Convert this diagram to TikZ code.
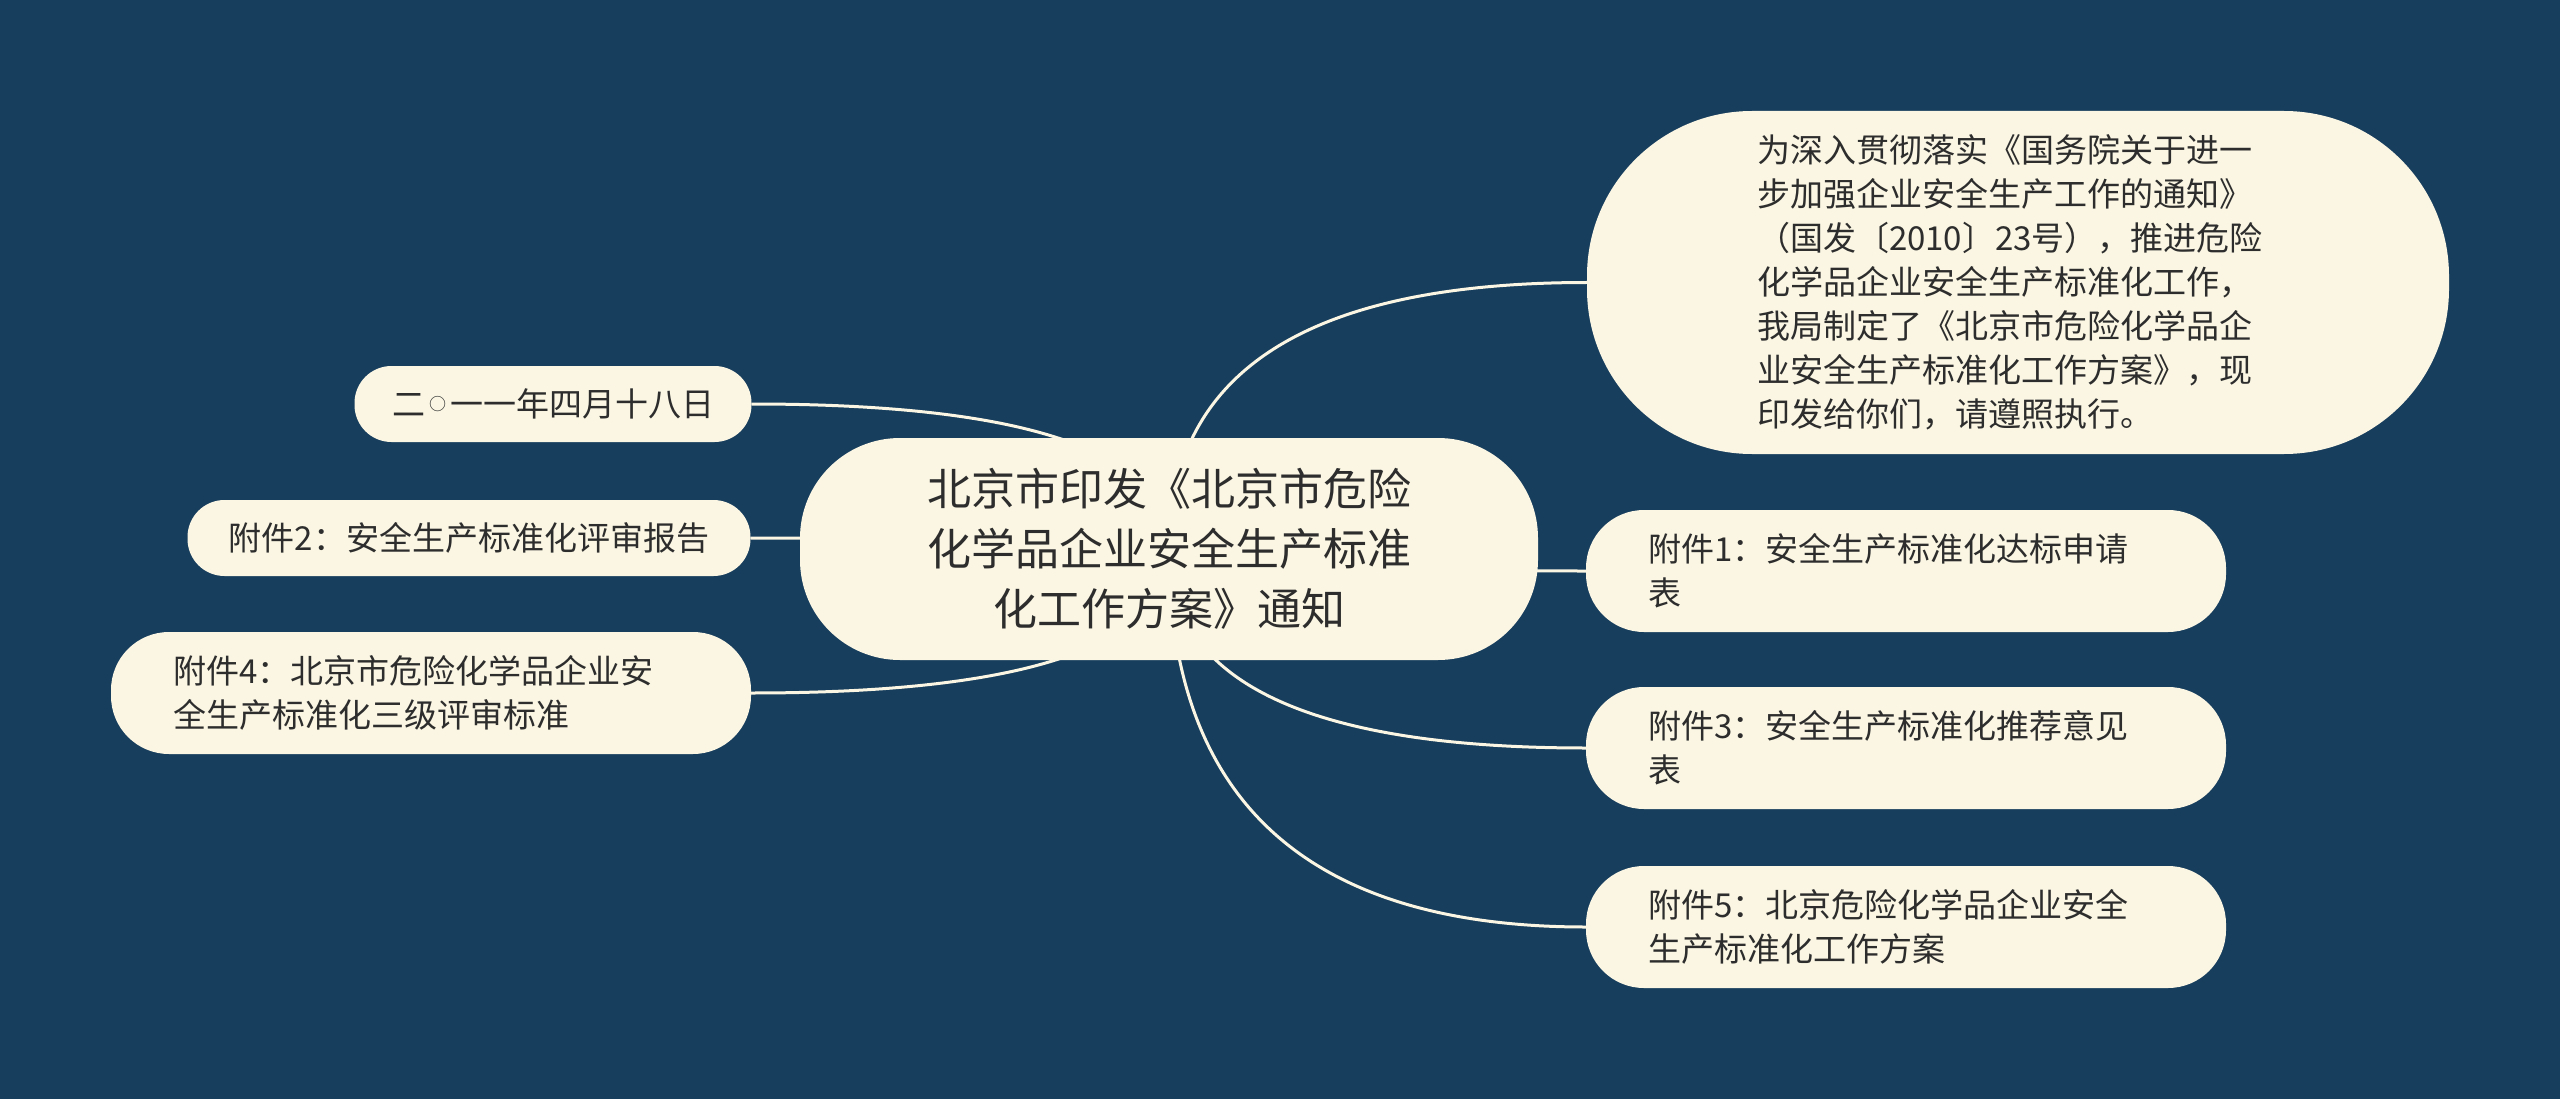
\documentclass[tikz,border=0pt]{standalone}
\usepackage{fontspec}
\setmainfont{Noto Sans CJK SC}
\usetikzlibrary{calc}
\definecolor{bgc}{RGB}{24,62,94}
\definecolor{cream}{RGB}{250,246,227}
\definecolor{ink}{RGB}{45,45,45}
\pgfdeclarelayer{back}
\pgfdeclarelayer{edges}
\pgfsetlayers{back,edges,main}
\newcommand\mmedge[1]{%
  \coordinate (k) at (r.center|-#1);
  \draw[edge] (r.center) .. controls ($(r.center)!0.6667!(k)$) and ($(#1)!0.6667!(k)$) .. (#1);}
\newcommand\smallcirc{\hspace{4pt}\raisebox{6pt}{\fontsize{17pt}{44pt}\selectfont ○}\hspace{4pt}}
\begin{document}
\begin{tikzpicture}[x=1pt,y=-1pt,
  box/.style={fill=cream, text=ink, draw=none, inner ysep=0pt, font=\fontsize{33pt}{44pt}\selectfont},
  one/.style={box, minimum height=76pt, rounded corners=37pt, inner xsep=0pt, align=center},
  two/.style={box, minimum height=122pt, rounded corners=58pt, inner xsep=62pt, text width=516pt, align=left},
  rootbox/.style={box, minimum width=738pt, minimum height=222pt, rounded corners=100pt, align=center, font=\fontsize{44pt}{60pt}\selectfont},
  bigbox/.style={box, minimum height=343pt, rounded corners=165pt, inner xsep=170pt, text width=522pt, align=left},
  edge/.style={draw=cream, line width=3pt}]
\begin{pgfonlayer}{back}
\fill[bgc] (0,0) rectangle (2560,1099);
\end{pgfonlayer}
\useasboundingbox (0,0) rectangle (2560,1099);

\node[rootbox] (r) at (1169,549) {北京市印发《北京市危险\\化学品企业安全生产标准\\化工作方案》通知};

\node[bigbox] (t) at (2018,282.5) {为深入贯彻落实《国务院关于进一\\步加强企业安全生产工作的通知》\\（国发〔2010〕23号），推进危险\\化学品企业安全生产标准化工作，\\我局制定了《北京市危险化学品企\\业安全生产标准化工作方案》，现\\印发给你们，请遵照执行。};
\node[two] (a1) at (1906,571) {附件1：安全生产标准化达标申请\\表};
\node[two] (a3) at (1906,748) {附件3：安全生产标准化推荐意见\\表};
\node[two] (a5) at (1906,927) {附件5：北京危险化学品企业安全\\生产标准化工作方案};

\node[one, minimum width=397pt] (d) at (553,404) {二\smallcirc 一一年四月十八日};
\node[one, minimum width=563pt] (a2) at (469,538) {附件2：安全生产标准化评审报告};
\node[two] (a4) at (431,693) {附件4：北京市危险化学品企业安\\全生产标准化三级评审标准};

\begin{pgfonlayer}{edges}
\mmedge{t.west}
\mmedge{a1.west}
\mmedge{a3.west}
\mmedge{a5.west}
\mmedge{d.east}
\mmedge{a2.east}
\mmedge{a4.east}
\end{pgfonlayer}
\end{tikzpicture}
\end{document}
